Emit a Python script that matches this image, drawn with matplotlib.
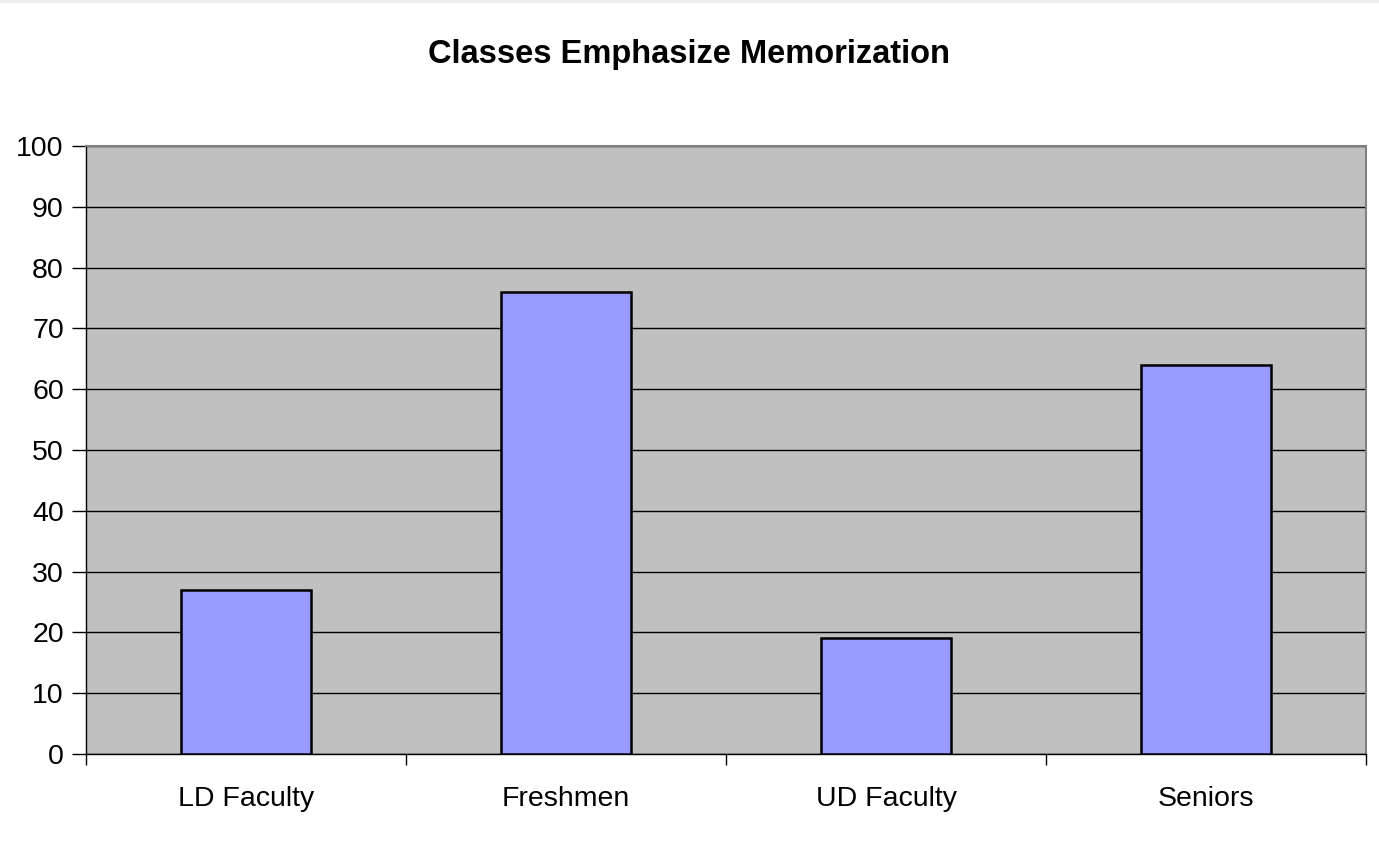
import matplotlib
matplotlib.use("Agg")
import matplotlib.pyplot as plt
from matplotlib.patches import Rectangle

categories = ["LD Faculty", "Freshmen", "UD Faculty", "Seniors"]
values = [27, 76, 19, 64]
y_ticks = [0, 10, 20, 30, 40, 50, 60, 70, 80, 90, 100]

plt.rcParams["font.family"] = ["Liberation Sans", "DejaVu Sans"]

fig = plt.figure(figsize=(13.79, 8.46), dpi=100)
fig.patches.append(Rectangle((0, 0.996), 1, 0.004, transform=fig.transFigure,
                             facecolor="#eeeeee", edgecolor="none"))

ax = fig.add_axes([86 / 1379, 1 - 754 / 846, 1280 / 1379, 608 / 846])
ax.set_facecolor("#c0c0c0")

x = list(range(len(categories)))
ax.bar(x, values, width=0.406, color="#9999ff", edgecolor="black", linewidth=1.8, zorder=3)

ax.set_xlim(-0.5, len(categories) - 0.5)
ax.set_ylim(0, 100)
ax.set_yticks(y_ticks)
ax.yaxis.grid(True, color="black", linewidth=1.0, zorder=1)
ax.set_axisbelow(True)

# category boundaries get tick marks, labels sit at category centres
ax.set_xticks([i - 0.5 for i in range(len(categories) + 1)])
ax.set_xticklabels([""] * (len(categories) + 1))
ax.set_xticks(x, minor=True)
ax.set_xticklabels(categories, minor=True)
ax.tick_params(axis="x", which="minor", length=0, pad=23, labelsize=20.5)
ax.tick_params(axis="x", which="major", length=8, width=1, direction="out")
ax.tick_params(axis="y", length=10, width=1, direction="out", labelsize=20.5, pad=6)

for side in ("top", "right"):
    ax.spines[side].set_color("#808080")
    ax.spines[side].set_linewidth(1.5)
for side in ("left", "bottom"):
    ax.spines[side].set_color("black")
    ax.spines[side].set_linewidth(1.0)

fig.text(0.5, 1 - 55 / 846, "Classes Emphasize Memorization", ha="center", va="center",
         fontsize=23.5, fontweight="bold")

fig.savefig("out.png", dpi=100)
